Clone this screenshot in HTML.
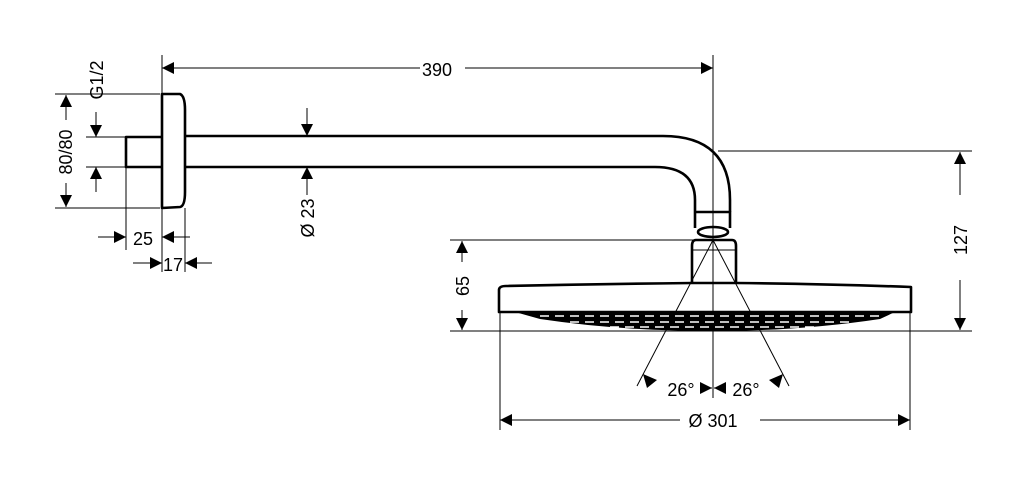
<!DOCTYPE html>
<html><head><meta charset="utf-8"><style>
html,body{margin:0;padding:0;background:#fff;}
svg{display:block;}
text{font-family:"Liberation Sans",sans-serif;font-size:18px;fill:#000;}
</style></head><body>
<svg width="1024" height="496" viewBox="0 0 1024 496" xmlns="http://www.w3.org/2000/svg">
<defs>
<marker id="a" viewBox="0 0 10 10" refX="10" refY="5" markerWidth="12" markerHeight="12" markerUnits="userSpaceOnUse" orient="auto"><path d="M0,0L10,5L0,10z" fill="#000"/></marker>
</defs>
<g stroke="#000" stroke-width="1" fill="none">
<line x1="162" y1="55" x2="162" y2="272"/>
<line x1="713" y1="55" x2="713" y2="398"/>
<line x1="55" y1="94" x2="160" y2="94"/>
<line x1="55" y1="208" x2="160" y2="208"/>
<line x1="86" y1="137" x2="126" y2="137"/>
<line x1="86" y1="167" x2="126" y2="167"/>
<line x1="126" y1="167" x2="126" y2="250"/>
<line x1="185" y1="208" x2="185" y2="272"/>
<line x1="718" y1="151" x2="972" y2="151"/>
<line x1="450" y1="240" x2="700" y2="240"/>
<line x1="450" y1="331" x2="972" y2="331"/>
<line x1="500" y1="312" x2="500" y2="430"/>
<line x1="910" y1="312" x2="910" y2="430"/>
<line x1="420" y1="68" x2="162" y2="68" marker-end="url(#a)"/>
<line x1="465" y1="68" x2="713" y2="68" marker-end="url(#a)"/>
<line x1="66" y1="120" x2="66" y2="95" marker-end="url(#a)"/>
<line x1="66" y1="183" x2="66" y2="207" marker-end="url(#a)"/>
<line x1="96" y1="112" x2="96" y2="137" marker-end="url(#a)"/>
<line x1="96" y1="192" x2="96" y2="167" marker-end="url(#a)"/>
<line x1="307" y1="108" x2="307" y2="136" marker-end="url(#a)"/>
<line x1="307" y1="195" x2="307" y2="167" marker-end="url(#a)"/>
<line x1="98" y1="237" x2="126" y2="237" marker-end="url(#a)"/>
<line x1="190" y1="237" x2="162" y2="237" marker-end="url(#a)"/>
<line x1="133" y1="263" x2="162" y2="263" marker-end="url(#a)"/>
<line x1="212" y1="263" x2="185" y2="263" marker-end="url(#a)"/>
<line x1="462" y1="262" x2="462" y2="241" marker-end="url(#a)"/>
<line x1="462" y1="310" x2="462" y2="330" marker-end="url(#a)"/>
<line x1="960" y1="195" x2="960" y2="152" marker-end="url(#a)"/>
<line x1="960" y1="280" x2="960" y2="330" marker-end="url(#a)"/>
<line x1="680" y1="420" x2="500" y2="420" marker-end="url(#a)"/>
<line x1="760" y1="420" x2="910" y2="420" marker-end="url(#a)"/>
<line x1="713" y1="240" x2="637" y2="386"/>
<line x1="713" y1="240" x2="789" y2="386"/>
<line x1="700" y1="388" x2="712" y2="388" marker-end="url(#a)"/>
<line x1="726" y1="388" x2="714" y2="388" marker-end="url(#a)"/>
</g>
<g fill="#000">
<path d="M643,374 L657,380 L647,388 Z"/>
<path d="M783,374 L769,380 L779,388 Z"/>
</g>
<g stroke="#000" stroke-width="2.6" fill="none" stroke-linejoin="round">
<path d="M162,137 H126 V167 H162"/>
<path d="M162,94 H180 Q185,96 185,110 V192 Q185,206 180,207 L162,208 Z"/>
<path d="M185,136 H663 Q730,136 730,200 V212"/>
<path d="M185,167 H655 Q695,167 695,200 V212"/>
<path d="M695,212 H730 V228 M695,212 V228"/>
<ellipse cx="713" cy="232" rx="15" ry="5"/>
<path d="M696,240 H732 Q736,240 736,246 V283 M692,283 V246 Q692,240 696,240"/>
<line x1="692" y1="250" x2="736" y2="250" stroke-width="1"/>
<path d="M499,312 V290 Q499,286 506,286 Q600,284 692,283 H736 Q830,284 911,287 V312 Z"/>
</g>
<g fill="#000">
<path d="M515,312 H895 L880,319 Q800,331 713,331 Q620,331 540,319 Z"/>
</g>
<g stroke="#fff" stroke-width="1.6" stroke-dasharray="9 6">
<line x1="540" y1="316" x2="880" y2="316"/>
<line x1="570" y1="322" x2="850" y2="322"/>
<line x1="610" y1="327" x2="815" y2="327"/>
</g>
<g>
<text x="437" y="76" text-anchor="middle">390</text>
<text x="681" y="396" text-anchor="middle">26°</text>
<text x="746" y="396" text-anchor="middle">26°</text>
<text x="713" y="427" text-anchor="middle">Ø 301</text>
<text x="143" y="245" text-anchor="middle">25</text>
<text x="173" y="271" text-anchor="middle">17</text>
<text transform="translate(72,152) rotate(-90)" text-anchor="middle">80/80</text>
<text transform="translate(103,80) rotate(-90)" text-anchor="middle">G1/2</text>
<text transform="translate(314,218) rotate(-90)" text-anchor="middle">Ø 23</text>
<text transform="translate(469,286) rotate(-90)" text-anchor="middle">65</text>
<text transform="translate(967,240) rotate(-90)" text-anchor="middle">127</text>
</g>
</svg>
</body></html>
